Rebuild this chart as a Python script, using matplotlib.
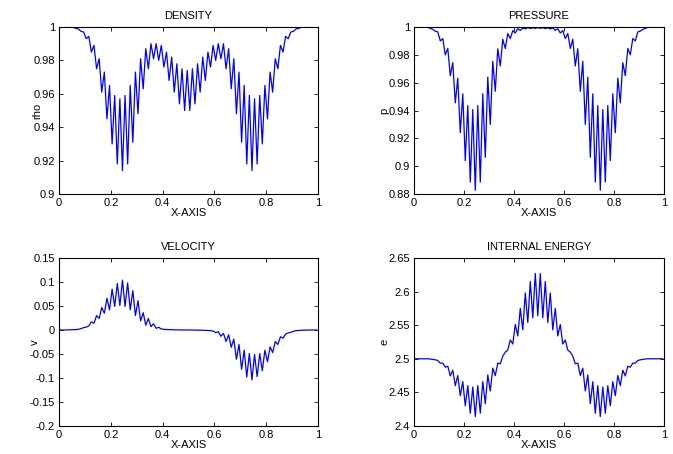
import numpy as np
import matplotlib
matplotlib.use("Agg")
import matplotlib.pyplot as plt
from matplotlib.ticker import FormatStrFormatter

plt.rcParams['font.family'] = ['Liberation Sans', 'DejaVu Sans']
plt.rcParams['axes.unicode_minus'] = False

# cell centres of the 100-cell grid
x = (np.arange(100) + 0.5) / 100

rho = [1.0, 1.0, 1.0, 1.0, 1.0, 0.9997, 0.9992, 0.9988, 0.9974, 0.997,
       0.993, 0.9944, 0.985, 0.989, 0.975, 0.981, 0.961, 0.973, 0.945, 0.965,
       0.930, 0.959, 0.918, 0.957, 0.914, 0.959, 0.918, 0.965, 0.931, 0.973,
       0.948, 0.981, 0.963, 0.987, 0.975, 0.990, 0.981, 0.990, 0.980, 0.989,
       0.976, 0.985, 0.968, 0.982, 0.961, 0.978, 0.954, 0.975, 0.950, 0.974,
       0.950, 0.975, 0.954, 0.978, 0.961, 0.982, 0.968, 0.985, 0.976, 0.989,
       0.980, 0.990, 0.981, 0.990, 0.975, 0.987, 0.963, 0.981, 0.948, 0.973,
       0.931, 0.965, 0.918, 0.959, 0.914, 0.957, 0.918, 0.959, 0.930, 0.965,
       0.945, 0.973, 0.961, 0.981, 0.975, 0.989, 0.985, 0.9944, 0.993, 0.997,
       0.9974, 0.9988, 0.9992, 0.9997, 1.0, 1.0, 1.0, 1.0, 1.0, 1.0]

p = [1.0, 1.0, 1.0, 1.0, 1.0, 0.9998, 0.9990, 0.9983, 0.9970, 0.9965,
     0.9900, 0.9917, 0.9800, 0.9846, 0.9650, 0.9744, 0.9455, 0.9633, 0.9240, 0.9520,
     0.9040, 0.9436, 0.8886, 0.9407, 0.8827, 0.9436, 0.8886, 0.9520, 0.9064, 0.9640,
     0.9300, 0.9754, 0.9538, 0.9844, 0.9720, 0.9912, 0.9846, 0.9953, 0.9917, 0.9974,
     0.9957, 0.9988, 0.9976, 0.9993, 0.9986, 0.9995, 0.9989, 0.9995, 0.9990, 0.9996,
     0.9990, 0.9995, 0.9989, 0.9995, 0.9986, 0.9993, 0.9976, 0.9988, 0.9957, 0.9974,
     0.9917, 0.9953, 0.9846, 0.9912, 0.9720, 0.9844, 0.9538, 0.9754, 0.9300, 0.9640,
     0.9064, 0.9520, 0.8886, 0.9436, 0.8827, 0.9407, 0.8886, 0.9436, 0.9040, 0.9520,
     0.9240, 0.9633, 0.9455, 0.9744, 0.9650, 0.9846, 0.9800, 0.9917, 0.9900, 0.9965,
     0.9970, 0.9983, 0.9990, 0.9998, 1.0, 1.0, 1.0, 1.0, 1.0, 1.0]

v = [0.0, 0.0, 0.0001, 0.0002, 0.0004, 0.0006, 0.0009, 0.0014, 0.0028, 0.0049,
     0.0060, 0.0085, 0.017, 0.014, 0.030, 0.024, 0.047, 0.035, 0.066, 0.042,
     0.085, 0.049, 0.097, 0.051, 0.104, 0.049, 0.098, 0.042, 0.082, 0.030,
     0.061, 0.019, 0.036, 0.010, 0.024, 0.007, 0.013, 0.0035, 0.0056, 0.0021,
     0.0014, 0.0010, 0.0008, 0.0006, 0.0004, 0.0003, 0.0002, 0.0001, 0.0, 0.0,
     0.0, -0.0001, -0.0002, -0.0003, -0.0004, -0.0006, -0.0008, -0.0010, -0.0014, -0.0021,
     -0.0056, -0.0035, -0.013, -0.007, -0.024, -0.010, -0.036, -0.019, -0.061, -0.030,
     -0.082, -0.042, -0.098, -0.049, -0.104, -0.051, -0.097, -0.049, -0.085, -0.042,
     -0.066, -0.035, -0.047, -0.024, -0.030, -0.014, -0.017, -0.0085, -0.0060, -0.0049,
     -0.0028, -0.0014, -0.0009, -0.0006, -0.0004, -0.0002, -0.0001, 0.0, 0.0, 0.0]

e = [2.5, 2.5, 2.5, 2.5, 2.5, 2.5, 2.4997, 2.499, 2.4985, 2.4975,
     2.4935, 2.4935, 2.4875, 2.489, 2.4745, 2.483, 2.460, 2.475, 2.445, 2.466,
     2.430, 2.460, 2.419, 2.458, 2.414, 2.460, 2.419, 2.466, 2.433, 2.476,
     2.452, 2.486, 2.475, 2.4935, 2.4925, 2.504, 2.510, 2.513, 2.528, 2.522,
     2.551, 2.534, 2.575, 2.543, 2.598, 2.554, 2.615, 2.561, 2.627, 2.564,
     2.627, 2.561, 2.615, 2.554, 2.598, 2.543, 2.575, 2.534, 2.551, 2.522,
     2.528, 2.513, 2.510, 2.504, 2.4925, 2.4935, 2.475, 2.486, 2.452, 2.476,
     2.433, 2.466, 2.419, 2.460, 2.414, 2.458, 2.419, 2.460, 2.430, 2.466,
     2.445, 2.475, 2.460, 2.483, 2.4745, 2.489, 2.4875, 2.4935, 2.4935, 2.4975,
     2.4985, 2.499, 2.4997, 2.5, 2.5, 2.5, 2.5, 2.5, 2.5, 2.5]

x_ticks = [0, 0.2, 0.4, 0.6, 0.8, 1]
rho_ticks = [0.9, 0.92, 0.94, 0.96, 0.98, 1]
p_ticks = [0.88, 0.9, 0.92, 0.94, 0.96, 0.98, 1]
v_ticks = [-0.2, -0.15, -0.1, -0.05, 0, 0.05, 0.1, 0.15]
e_ticks = [2.4, 2.45, 2.5, 2.55, 2.6, 2.65]

panels = [
    ("DENSITY", "rho", rho, (0.9, 1.0), rho_ticks),
    ("PRESSURE", "p", p, (0.88, 1.0), p_ticks),
    ("VELOCITY", "v", v, (-0.2, 0.15), v_ticks),
    ("INTERNAL ENERGY", "e", e, (2.4, 2.65), e_ticks),
]

# axes rectangles in figure fractions, plus y-label x position (axes coords)
rects = [
    ([0.0877, 0.5727, 0.3848, 0.3678], -0.065),
    ([0.6152, 0.5727, 0.3715, 0.3678], -0.10),
    ([0.0877, 0.0617, 0.3848, 0.3700], -0.075),
    ([0.6152, 0.0617, 0.3715, 0.3700], -0.10),
]

fig = plt.figure(figsize=(6.73, 4.54), dpi=100)

for (title, ylab, vals, ylim, yt), (r, lx) in zip(panels, rects):
    ax = fig.add_axes(r)
    ax.plot(x, vals, color='blue', linewidth=0.9)
    ax.set_xlim(0, 1)
    ax.set_ylim(*ylim)
    ax.set_xticks(x_ticks)
    ax.set_yticks(yt)
    ax.xaxis.set_major_formatter(FormatStrFormatter('%g'))
    ax.yaxis.set_major_formatter(FormatStrFormatter('%g'))
    ax.tick_params(direction='in', top=True, right=True, labelsize=8,
                   length=3, width=0.6, pad=3)
    for s in ax.spines.values():
        s.set_linewidth(0.8)
    ax.set_title(title, fontsize=8, pad=6)
    ax.set_xlabel("X-AXIS", fontsize=8, labelpad=0)
    ax.set_ylabel(ylab, fontsize=8)
    ax.yaxis.set_label_coords(lx, 0.5)

fig.savefig("out.png", dpi=100)
